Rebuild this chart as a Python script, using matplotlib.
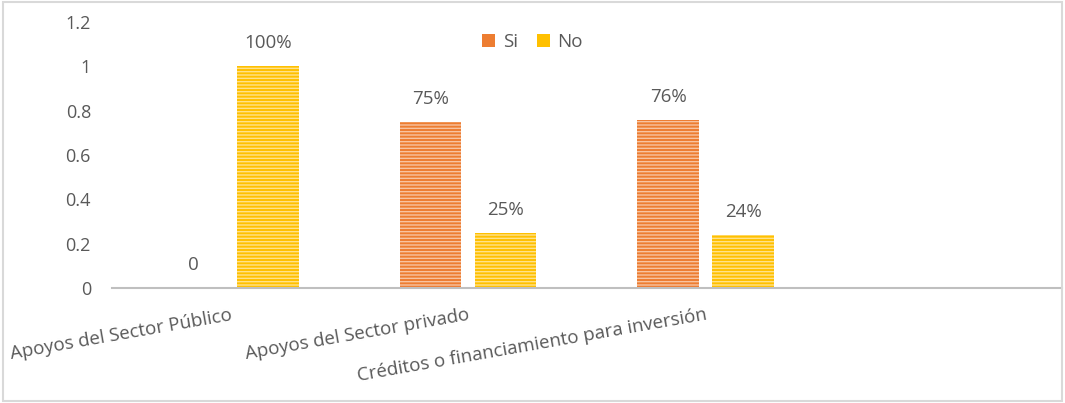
import matplotlib
matplotlib.use("Agg")
import matplotlib.pyplot as plt
import numpy as np
from matplotlib.patches import Rectangle, Patch

categories = ["Apoyos del Sector Público", "Apoyos del Sector privado",
              "Créditos o financiamiento para inversión", ""]
si_values = [0.0, 0.75, 0.76, np.nan]
no_values = [1.0, 0.25, 0.24, np.nan]
si_labels = ["0", "75%", "76%", ""]
no_labels = ["100%", "25%", "24%", ""]
y_ticks = [0, 0.2, 0.4, 0.6, 0.8, 1, 1.2]
y_ticklabels = ["0", "0.2", "0.4", "0.6", "0.8", "1", "1.2"]

plt.rcParams['font.family'] = ['Open Sans', 'DejaVu Sans']
plt.rcParams['hatch.linewidth'] = 1.0

c_si = "#ED7D31"
c_si_h = "#F8C3A0"
c_no = "#FFC000"
c_no_h = "#FFE28A"
txt = "#595959"

fig = plt.figure(figsize=(10.65, 4.03), dpi=100)
ax = fig.add_axes([0.105, 0.2854, 0.892, 0.66])

x = np.arange(len(categories))
w = 0.26
off = 0.158
ax.bar(x - off, si_values, w, color=c_si, edgecolor=c_si_h, linewidth=0, hatch="-----")
ax.bar(x + off, no_values, w, color=c_no, edgecolor=c_no_h, linewidth=0, hatch="-----")

for xs, vals, labs in [(x - off, si_values, si_labels), (x + off, no_values, no_labels)]:
    for xi, v, lab in zip(xs, vals, labs):
        if lab:
            ax.annotate(lab, (xi, v), xytext=(0, 16.5), textcoords="offset points",
                        ha="center", va="center", fontsize=13.5, color=txt)

ax.set_xlim(-0.5, len(categories) - 0.5)
ax.set_ylim(0, 1.2)
ax.set_yticks(y_ticks)
ax.set_yticklabels(y_ticklabels, fontsize=13, color=txt)
ax.tick_params(axis="y", length=0, pad=15)
ax.set_xticks(x)
ax.set_xticklabels(categories, rotation=10, ha="right", rotation_mode="anchor",
                   fontsize=13.5, color=txt)
ax.tick_params(axis="x", length=0, pad=13)
for s in ["top", "right", "left"]:
    ax.spines[s].set_visible(False)
ax.spines["bottom"].set_color("#BFBFBF")
ax.spines["bottom"].set_linewidth(1.5)

handles = [Patch(facecolor=c_si, edgecolor="none"), Patch(facecolor=c_no, edgecolor="none")]
fig.legend(handles, ["Si", "No"], loc="center", bbox_to_anchor=(0.5, 0.895), ncol=2,
           frameon=False, fontsize=13.5, labelcolor=txt, handlelength=0.7, handleheight=0.7,
           handletextpad=0.4, columnspacing=1.0)

fig.patches.append(Rectangle((0.003, 0.005), 0.994, 0.99, transform=fig.transFigure,
                             fill=False, edgecolor="#D9D9D9", linewidth=1.5))

fig.savefig("out.png", dpi=100)
